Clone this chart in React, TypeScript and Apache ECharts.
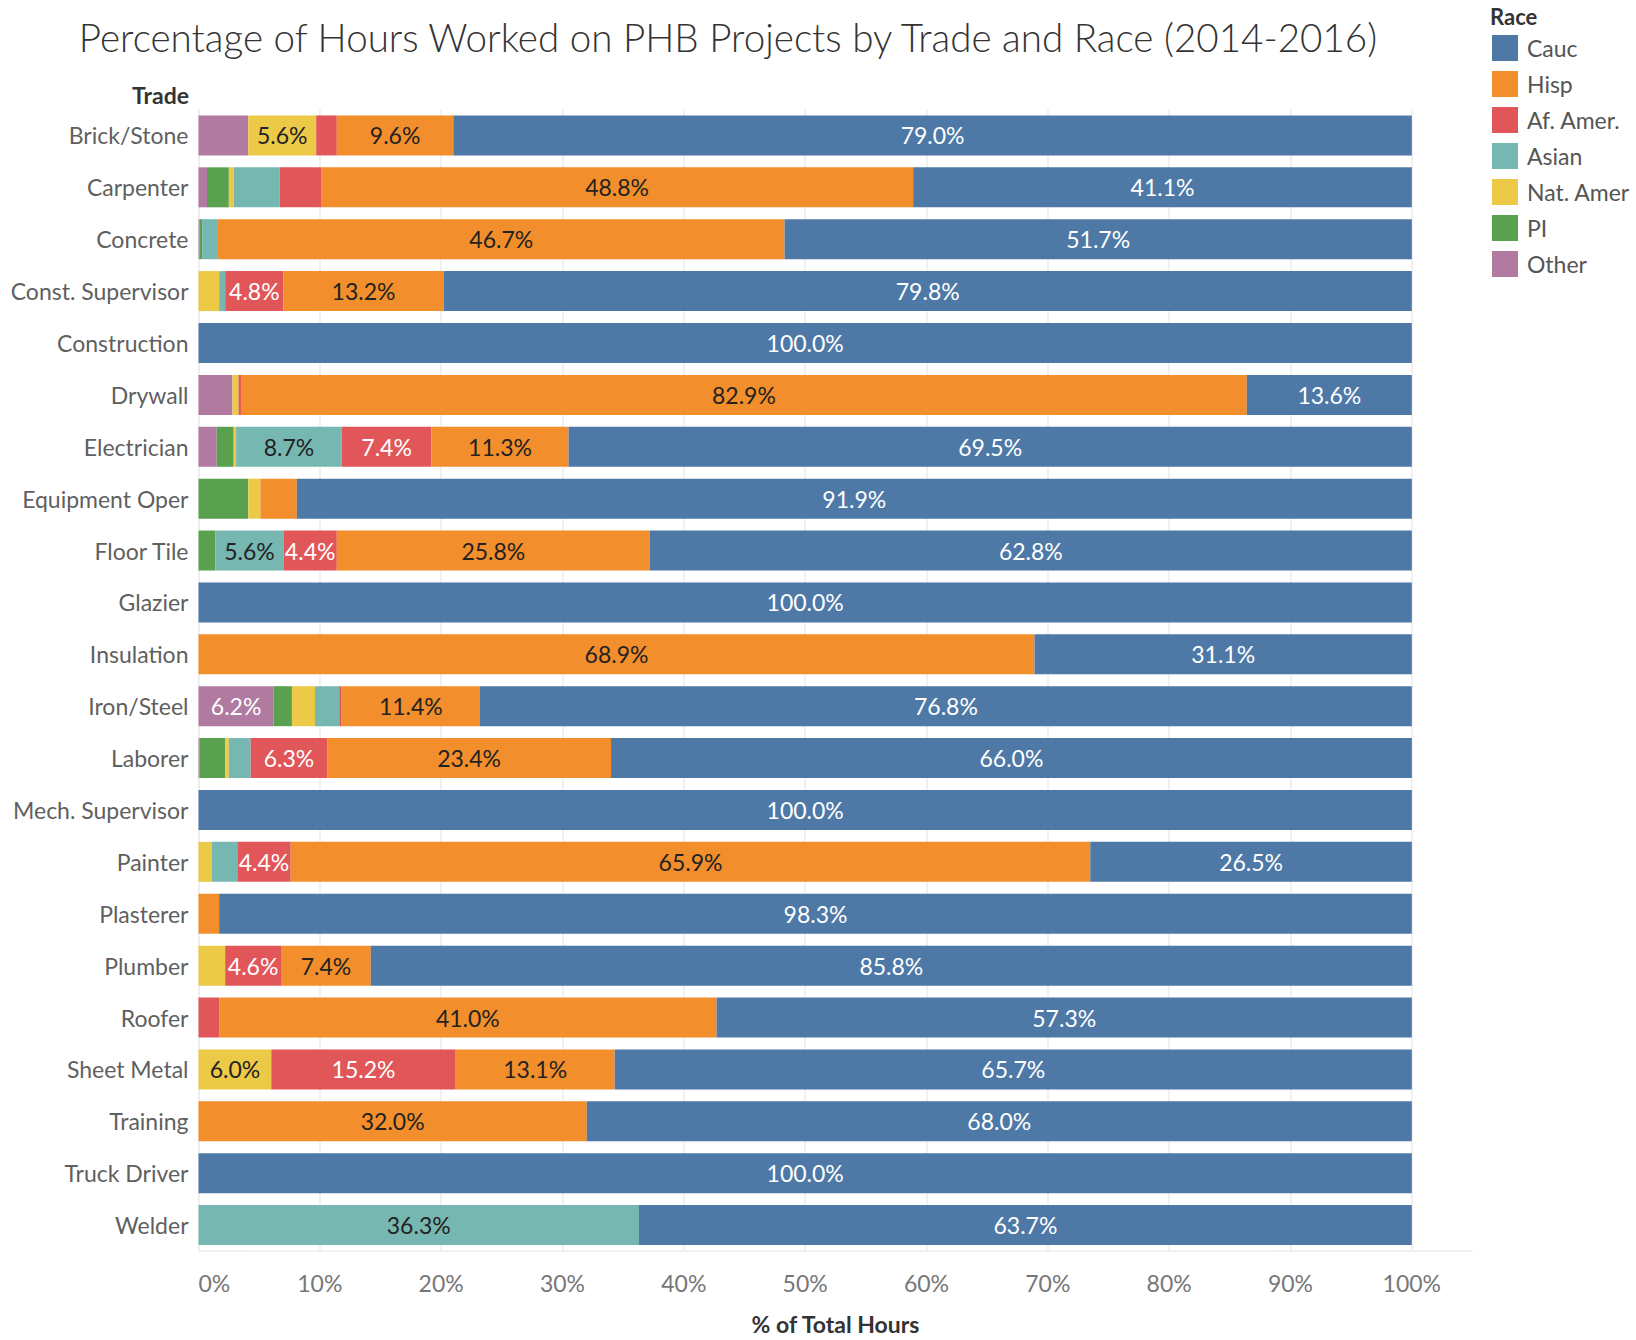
import React, { useEffect, useRef } from "react";
import * as echarts from "echarts";

const trades = [
  "Brick/Stone", "Carpenter", "Concrete", "Const. Supervisor", "Construction", "Drywall",
  "Electrician", "Equipment Oper", "Floor Tile", "Glazier", "Insulation", "Iron/Steel",
  "Laborer", "Mech. Supervisor", "Painter", "Plasterer", "Plumber", "Roofer",
  "Sheet Metal", "Training", "Truck Driver", "Welder",
];

const cauc = [79.0, 41.1, 51.7, 79.8, 100, 13.6, 69.5, 91.9, 62.8, 100, 31.1, 76.8, 66.0, 100, 26.5, 98.3, 85.8, 57.3, 65.7, 68.0, 100, 63.7];
const hisp = [9.6, 48.8, 46.7, 13.2, 0, 82.9, 11.3, 3.0, 25.8, 0, 68.9, 11.4, 23.4, 0, 65.9, 1.7, 7.4, 41.0, 13.1, 32.0, 0, 0];
const afAmer = [1.7, 3.4, 0, 4.8, 0, 0.2, 7.4, 0, 4.4, 0, 0, 0.2, 6.3, 0, 4.4, 0, 4.6, 1.7, 15.2, 0, 0, 0];
const asian = [0, 3.8, 1.3, 0.5, 0, 0, 8.7, 0, 5.6, 0, 0, 2.0, 1.8, 0, 2.1, 0, 0, 0, 0, 0, 0, 36.3];
const natAmer = [5.6, 0.4, 0, 1.7, 0, 0.5, 0.2, 1.0, 0, 0, 0, 1.9, 0.3, 0, 1.1, 0, 2.2, 0, 6.0, 0, 0, 0];
const pi = [0, 1.8, 0.2, 0, 0, 0, 1.4, 4.1, 1.4, 0, 0, 1.5, 2.1, 0, 0, 0, 0, 0, 0, 0, 0, 0];
const other = [4.1, 0.7, 0.1, 0, 0, 2.8, 1.5, 0, 0, 0, 0, 6.2, 0.1, 0, 0, 0, 0, 0, 0, 0, 0, 0];

const legendOrder = ["Cauc", "Hisp", "Af. Amer.", "Asian", "Nat. Amer", "PI", "Other"];
const xTicks = [0, 10, 20, 30, 40, 50, 60, 70, 80, 90, 100];

const LABEL_MIN = 4.3;
const FONT = "Lato, 'Open Sans', sans-serif";

// stacking order left to right
const stackDefs = [
  { name: "Other", data: other, color: "#b07aa1", text: "#ffffff" },
  { name: "PI", data: pi, color: "#59a14f", text: "#ffffff" },
  { name: "Nat. Amer", data: natAmer, color: "#edc948", text: "#222222" },
  { name: "Asian", data: asian, color: "#76b7b2", text: "#222222" },
  { name: "Af. Amer.", data: afAmer, color: "#e15759", text: "#ffffff" },
  { name: "Hisp", data: hisp, color: "#f28e2b", text: "#222222" },
  { name: "Cauc", data: cauc, color: "#4e79a7", text: "#ffffff" },
];

export default function App() {
  const ref = useRef<HTMLDivElement>(null);

  useEffect(() => {
    document.body.style.margin = "0";
    const chart = echarts.init(ref.current!, null, { renderer: "svg" });
    const option: any = {
      animation: false,
      backgroundColor: "#ffffff",
      textStyle: { fontFamily: FONT },
      title: {
        text: "Percentage of Hours Worked on PHB Projects by Trade and Race (2014-2016)",
        left: 723,
        top: 12,
        textAlign: "center",
        textStyle: { fontFamily: FONT, fontSize: 38.6, fontWeight: 300, color: "#333333" },
      },
      graphic: [
        {
          type: "text",
          left: 1490,
          top: 5,
          style: { text: "Race", fontFamily: FONT, fontSize: 22, fontWeight: "bold", fill: "#333333" },
        },
        {
          type: "text",
          right: 1636 - 189,
          top: 83,
          style: { text: "Trade", fontFamily: FONT, fontSize: 23, fontWeight: "bold", fill: "#333333" },
        },
      ],
      legend: {
        data: legendOrder,
        orient: "vertical",
        left: 1492,
        top: 35,
        padding: 0,
        itemWidth: 26,
        itemHeight: 26,
        itemGap: 10,
        icon: "rect",
        textStyle: { fontFamily: FONT, fontSize: 23, color: "#555555", padding: [0, 0, 0, 4] },
      },
      grid: { left: 198.5, right: 163.5, top: 109.5, bottom: 83, containLabel: false },
      xAxis: {
        type: "value",
        min: 0,
        max: 105,
        interval: 10,
        name: "% of Total Hours",
        nameLocation: "middle",
        nameGap: 61,
        nameTextStyle: { fontFamily: FONT, fontSize: 23, fontWeight: "bold", color: "#333333" },
        axisLine: { show: true, lineStyle: { color: "#ececec", width: 1.5 } },
        axisTick: { show: false },
        splitLine: { show: true, showMaxLine: false, lineStyle: { color: "#ececec", width: 1.5 } },
        axisLabel: {
          fontFamily: FONT,
          fontSize: 23,
          color: "#777777",
          margin: 20,
          showMaxLabel: false,
          alignMinLabel: "left",
          formatter: (v: number) => (xTicks.includes(v) ? v + "%" : ""),
        },
      },
      yAxis: {
        type: "category",
        data: trades,
        inverse: true,
        axisLine: { show: true, lineStyle: { color: "#ececec", width: 1.5 } },
        axisTick: { show: false },
        axisLabel: { fontFamily: FONT, fontSize: 23, color: "#5f5f5f", margin: 10 },
      },
      series: stackDefs.map((s) => ({
        name: s.name,
        type: "bar",
        stack: "total",
        barWidth: 40,
        data: s.data,
        itemStyle: { color: s.color },
        label: {
          show: true,
          position: "inside",
          fontFamily: FONT,
          fontSize: 23,
          color: s.text,
          formatter: (p: any) => (p.value >= LABEL_MIN ? Number(p.value).toFixed(1) + "%" : ""),
        },
      })),
    };
    chart.setOption(option);
    return () => chart.dispose();
  }, []);

  return <div ref={ref} style={{ width: 1636, height: 1340 }} />;
}
